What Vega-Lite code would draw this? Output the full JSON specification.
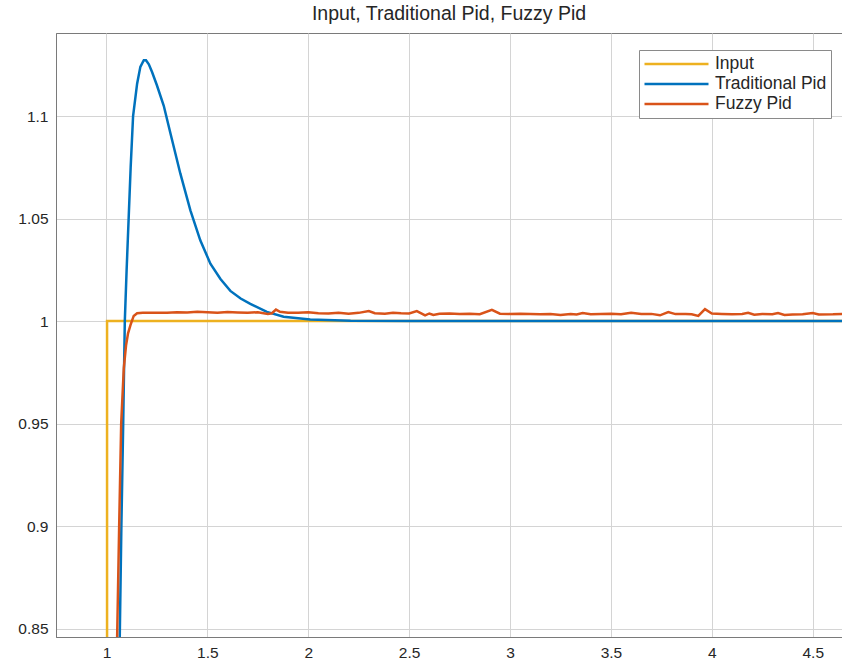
{
  "$schema": "https://vega.github.io/schema/vega-lite/v6.json",
  "width": 786,
  "height": 604,
  "autosize": {"type": "none"},
  "padding": {"left": 56, "top": 33, "right": 0, "bottom": 26},
  "background": "white",
  "title": {"text": "Input, Traditional Pid, Fuzzy Pid", "fontSize": 19.5, "fontWeight": "normal", "font": "Arial", "color": "#262626", "anchor": "middle", "offset": 9},
  "config": {
    "view": {"stroke": "#7a7a7a", "strokeWidth": 1},
    "title": {"fontSize": 19.5, "fontWeight": "normal", "font": "Arial"},
    "axis": {"labelFont": "Arial", "labelFontSize": 15.5, "labelColor": "#262626", "gridColor": "#d4d4d4", "gridWidth": 1, "domainColor": "#7a7a7a", "tickColor": "#262626", "title": null}
  },
  "datasets": {
    "pts": [
      {"series": "Input", "i": 0, "x": 1.003, "y": 0.80},
      {"series": "Input", "i": 1, "x": 1.003, "y": 1.0},
      {"series": "Input", "i": 2, "x": 4.7, "y": 1.0},
      {"series": "Traditional Pid", "i": 0, "x": 1.06, "y": 0.81},
      {"series": "Traditional Pid", "i": 1, "x": 1.066, "y": 0.846},
      {"series": "Traditional Pid", "i": 2, "x": 1.074, "y": 0.9},
      {"series": "Traditional Pid", "i": 3, "x": 1.083, "y": 0.95},
      {"series": "Traditional Pid", "i": 4, "x": 1.091, "y": 1.0},
      {"series": "Traditional Pid", "i": 5, "x": 1.100, "y": 1.025},
      {"series": "Traditional Pid", "i": 6, "x": 1.110, "y": 1.05},
      {"series": "Traditional Pid", "i": 7, "x": 1.120, "y": 1.075},
      {"series": "Traditional Pid", "i": 8, "x": 1.132, "y": 1.1},
      {"series": "Traditional Pid", "i": 9, "x": 1.152, "y": 1.1158},
      {"series": "Traditional Pid", "i": 10, "x": 1.168, "y": 1.1240},
      {"series": "Traditional Pid", "i": 11, "x": 1.185, "y": 1.1272},
      {"series": "Traditional Pid", "i": 12, "x": 1.196, "y": 1.1272},
      {"series": "Traditional Pid", "i": 13, "x": 1.210, "y": 1.1252},
      {"series": "Traditional Pid", "i": 14, "x": 1.226, "y": 1.1215},
      {"series": "Traditional Pid", "i": 15, "x": 1.250, "y": 1.1150},
      {"series": "Traditional Pid", "i": 16, "x": 1.284, "y": 1.1050},
      {"series": "Traditional Pid", "i": 17, "x": 1.317, "y": 1.0916},
      {"series": "Traditional Pid", "i": 18, "x": 1.366, "y": 1.0720},
      {"series": "Traditional Pid", "i": 19, "x": 1.416, "y": 1.0540},
      {"series": "Traditional Pid", "i": 20, "x": 1.465, "y": 1.0394},
      {"series": "Traditional Pid", "i": 21, "x": 1.515, "y": 1.0280},
      {"series": "Traditional Pid", "i": 22, "x": 1.565, "y": 1.0205},
      {"series": "Traditional Pid", "i": 23, "x": 1.614, "y": 1.0147},
      {"series": "Traditional Pid", "i": 24, "x": 1.665, "y": 1.0110},
      {"series": "Traditional Pid", "i": 25, "x": 1.713, "y": 1.0084},
      {"series": "Traditional Pid", "i": 26, "x": 1.795, "y": 1.0045},
      {"series": "Traditional Pid", "i": 27, "x": 1.878, "y": 1.0021},
      {"series": "Traditional Pid", "i": 28, "x": 2.010, "y": 1.0008},
      {"series": "Traditional Pid", "i": 29, "x": 2.210, "y": 1.0001},
      {"series": "Traditional Pid", "i": 30, "x": 2.500, "y": 1.0},
      {"series": "Traditional Pid", "i": 31, "x": 4.700, "y": 1.0},
      {"series": "Fuzzy Pid", "i": 0, "x": 1.04, "y": 0.80},
      {"series": "Fuzzy Pid", "i": 1, "x": 1.053, "y": 0.846},
      {"series": "Fuzzy Pid", "i": 2, "x": 1.063, "y": 0.9},
      {"series": "Fuzzy Pid", "i": 3, "x": 1.073, "y": 0.95},
      {"series": "Fuzzy Pid", "i": 4, "x": 1.086, "y": 0.977},
      {"series": "Fuzzy Pid", "i": 5, "x": 1.097, "y": 0.988},
      {"series": "Fuzzy Pid", "i": 6, "x": 1.107, "y": 0.994},
      {"series": "Fuzzy Pid", "i": 7, "x": 1.119, "y": 0.998},
      {"series": "Fuzzy Pid", "i": 8, "x": 1.135, "y": 1.0025},
      {"series": "Fuzzy Pid", "i": 9, "x": 1.152, "y": 1.0038},
      {"series": "Fuzzy Pid", "i": 10, "x": 1.18, "y": 1.0041},
      {"series": "Fuzzy Pid", "i": 11, "x": 1.25, "y": 1.0041},
      {"series": "Fuzzy Pid", "i": 12, "x": 1.30, "y": 1.0040},
      {"series": "Fuzzy Pid", "i": 13, "x": 1.35, "y": 1.0043},
      {"series": "Fuzzy Pid", "i": 14, "x": 1.40, "y": 1.0042},
      {"series": "Fuzzy Pid", "i": 15, "x": 1.45, "y": 1.0045},
      {"series": "Fuzzy Pid", "i": 16, "x": 1.50, "y": 1.0043},
      {"series": "Fuzzy Pid", "i": 17, "x": 1.55, "y": 1.0041},
      {"series": "Fuzzy Pid", "i": 18, "x": 1.60, "y": 1.0044},
      {"series": "Fuzzy Pid", "i": 19, "x": 1.65, "y": 1.0042},
      {"series": "Fuzzy Pid", "i": 20, "x": 1.70, "y": 1.0040},
      {"series": "Fuzzy Pid", "i": 21, "x": 1.75, "y": 1.0043},
      {"series": "Fuzzy Pid", "i": 22, "x": 1.80, "y": 1.0035},
      {"series": "Fuzzy Pid", "i": 23, "x": 1.82, "y": 1.0038},
      {"series": "Fuzzy Pid", "i": 24, "x": 1.84, "y": 1.0056},
      {"series": "Fuzzy Pid", "i": 25, "x": 1.86, "y": 1.0045},
      {"series": "Fuzzy Pid", "i": 26, "x": 1.90, "y": 1.0041},
      {"series": "Fuzzy Pid", "i": 27, "x": 1.95, "y": 1.0040},
      {"series": "Fuzzy Pid", "i": 28, "x": 2.00, "y": 1.0043},
      {"series": "Fuzzy Pid", "i": 29, "x": 2.05, "y": 1.0038},
      {"series": "Fuzzy Pid", "i": 30, "x": 2.10, "y": 1.0037},
      {"series": "Fuzzy Pid", "i": 31, "x": 2.15, "y": 1.0040},
      {"series": "Fuzzy Pid", "i": 32, "x": 2.20, "y": 1.0036},
      {"series": "Fuzzy Pid", "i": 33, "x": 2.25, "y": 1.0040},
      {"series": "Fuzzy Pid", "i": 34, "x": 2.30, "y": 1.0049},
      {"series": "Fuzzy Pid", "i": 35, "x": 2.33, "y": 1.0038},
      {"series": "Fuzzy Pid", "i": 36, "x": 2.38, "y": 1.0036},
      {"series": "Fuzzy Pid", "i": 37, "x": 2.42, "y": 1.0040},
      {"series": "Fuzzy Pid", "i": 38, "x": 2.46, "y": 1.0038},
      {"series": "Fuzzy Pid", "i": 39, "x": 2.50, "y": 1.0037},
      {"series": "Fuzzy Pid", "i": 40, "x": 2.538, "y": 1.0049},
      {"series": "Fuzzy Pid", "i": 41, "x": 2.56, "y": 1.0038},
      {"series": "Fuzzy Pid", "i": 42, "x": 2.579, "y": 1.0028},
      {"series": "Fuzzy Pid", "i": 43, "x": 2.60, "y": 1.0037},
      {"series": "Fuzzy Pid", "i": 44, "x": 2.62, "y": 1.0030},
      {"series": "Fuzzy Pid", "i": 45, "x": 2.65, "y": 1.0036},
      {"series": "Fuzzy Pid", "i": 46, "x": 2.70, "y": 1.0037},
      {"series": "Fuzzy Pid", "i": 47, "x": 2.75, "y": 1.0035},
      {"series": "Fuzzy Pid", "i": 48, "x": 2.80, "y": 1.0036},
      {"series": "Fuzzy Pid", "i": 49, "x": 2.85, "y": 1.0033},
      {"series": "Fuzzy Pid", "i": 50, "x": 2.91, "y": 1.0055},
      {"series": "Fuzzy Pid", "i": 51, "x": 2.95, "y": 1.0036},
      {"series": "Fuzzy Pid", "i": 52, "x": 3.00, "y": 1.0035},
      {"series": "Fuzzy Pid", "i": 53, "x": 3.05, "y": 1.0036},
      {"series": "Fuzzy Pid", "i": 54, "x": 3.10, "y": 1.0035},
      {"series": "Fuzzy Pid", "i": 55, "x": 3.15, "y": 1.0033},
      {"series": "Fuzzy Pid", "i": 56, "x": 3.20, "y": 1.0035},
      {"series": "Fuzzy Pid", "i": 57, "x": 3.25, "y": 1.0030},
      {"series": "Fuzzy Pid", "i": 58, "x": 3.30, "y": 1.0035},
      {"series": "Fuzzy Pid", "i": 59, "x": 3.33, "y": 1.0032},
      {"series": "Fuzzy Pid", "i": 60, "x": 3.36, "y": 1.0039},
      {"series": "Fuzzy Pid", "i": 61, "x": 3.40, "y": 1.0033},
      {"series": "Fuzzy Pid", "i": 62, "x": 3.45, "y": 1.0035},
      {"series": "Fuzzy Pid", "i": 63, "x": 3.50, "y": 1.0036},
      {"series": "Fuzzy Pid", "i": 64, "x": 3.55, "y": 1.0033},
      {"series": "Fuzzy Pid", "i": 65, "x": 3.60, "y": 1.0040},
      {"series": "Fuzzy Pid", "i": 66, "x": 3.65, "y": 1.0034},
      {"series": "Fuzzy Pid", "i": 67, "x": 3.70, "y": 1.0035},
      {"series": "Fuzzy Pid", "i": 68, "x": 3.743, "y": 1.0028},
      {"series": "Fuzzy Pid", "i": 69, "x": 3.784, "y": 1.0044},
      {"series": "Fuzzy Pid", "i": 70, "x": 3.82, "y": 1.0034},
      {"series": "Fuzzy Pid", "i": 71, "x": 3.87, "y": 1.0035},
      {"series": "Fuzzy Pid", "i": 72, "x": 3.90, "y": 1.0033},
      {"series": "Fuzzy Pid", "i": 73, "x": 3.933, "y": 1.0025},
      {"series": "Fuzzy Pid", "i": 74, "x": 3.966, "y": 1.0058},
      {"series": "Fuzzy Pid", "i": 75, "x": 4.00, "y": 1.0037},
      {"series": "Fuzzy Pid", "i": 76, "x": 4.05, "y": 1.0035},
      {"series": "Fuzzy Pid", "i": 77, "x": 4.10, "y": 1.0033},
      {"series": "Fuzzy Pid", "i": 78, "x": 4.15, "y": 1.0035},
      {"series": "Fuzzy Pid", "i": 79, "x": 4.18, "y": 1.0040},
      {"series": "Fuzzy Pid", "i": 80, "x": 4.21, "y": 1.0031},
      {"series": "Fuzzy Pid", "i": 81, "x": 4.25, "y": 1.0034},
      {"series": "Fuzzy Pid", "i": 82, "x": 4.30, "y": 1.0033},
      {"series": "Fuzzy Pid", "i": 83, "x": 4.328, "y": 1.0039},
      {"series": "Fuzzy Pid", "i": 84, "x": 4.36, "y": 1.0030},
      {"series": "Fuzzy Pid", "i": 85, "x": 4.40, "y": 1.0032},
      {"series": "Fuzzy Pid", "i": 86, "x": 4.45, "y": 1.0033},
      {"series": "Fuzzy Pid", "i": 87, "x": 4.50, "y": 1.0039},
      {"series": "Fuzzy Pid", "i": 88, "x": 4.53, "y": 1.0032},
      {"series": "Fuzzy Pid", "i": 89, "x": 4.60, "y": 1.0033},
      {"series": "Fuzzy Pid", "i": 90, "x": 4.65, "y": 1.0035}
    ]
  },
  "data": {"name": "pts"},
  "encoding": {
    "x": {"field": "x", "type": "quantitative", "scale": {"domain": [0.75, 4.645], "nice": false, "zero": false},
      "axis": {"values": [1, 1.5, 2, 2.5, 3, 3.5, 4, 4.5], "format": "~g", "grid": true, "tickSize": 0, "labelPadding": 8, "domain": true}},
    "y": {"field": "y", "type": "quantitative", "scale": {"domain": [0.8459, 1.1405], "nice": false, "zero": false},
      "axis": {"values": [0.85, 0.9, 0.95, 1, 1.05, 1.1], "format": "~g", "grid": true, "tickSize": 0, "labelPadding": 8, "domain": true}},
    "order": {"field": "i", "type": "quantitative"},
    "color": {"field": "series", "type": "nominal",
      "scale": {"domain": ["Input", "Traditional Pid", "Fuzzy Pid"], "range": ["#EDB120", "#0072BD", "#D95319"]},
      "legend": {"title": null, "orient": "none", "legendX": 583, "legendY": 17, "symbolType": "stroke", "symbolSize": 4096, "symbolStrokeWidth": 2.5, "clipHeight": 20, "labelFont": "Arial", "labelFontSize": 17.5, "labelColor": "#262626", "labelOffset": 5, "padding": 4, "strokeColor": "#8a8a8a", "fillColor": "white", "cornerRadius": 0, "rowPadding": 0}}
  },
  "layer": [
    {"transform": [{"filter": "datum.series === 'Input'"}], "mark": {"type": "line", "strokeWidth": 2.5, "clip": true}},
    {"transform": [{"filter": "datum.series === 'Traditional Pid'"}], "mark": {"type": "line", "strokeWidth": 2.5, "clip": true}},
    {"transform": [{"filter": "datum.series === 'Fuzzy Pid'"}], "mark": {"type": "line", "strokeWidth": 2.5, "clip": true}}
  ]
}
